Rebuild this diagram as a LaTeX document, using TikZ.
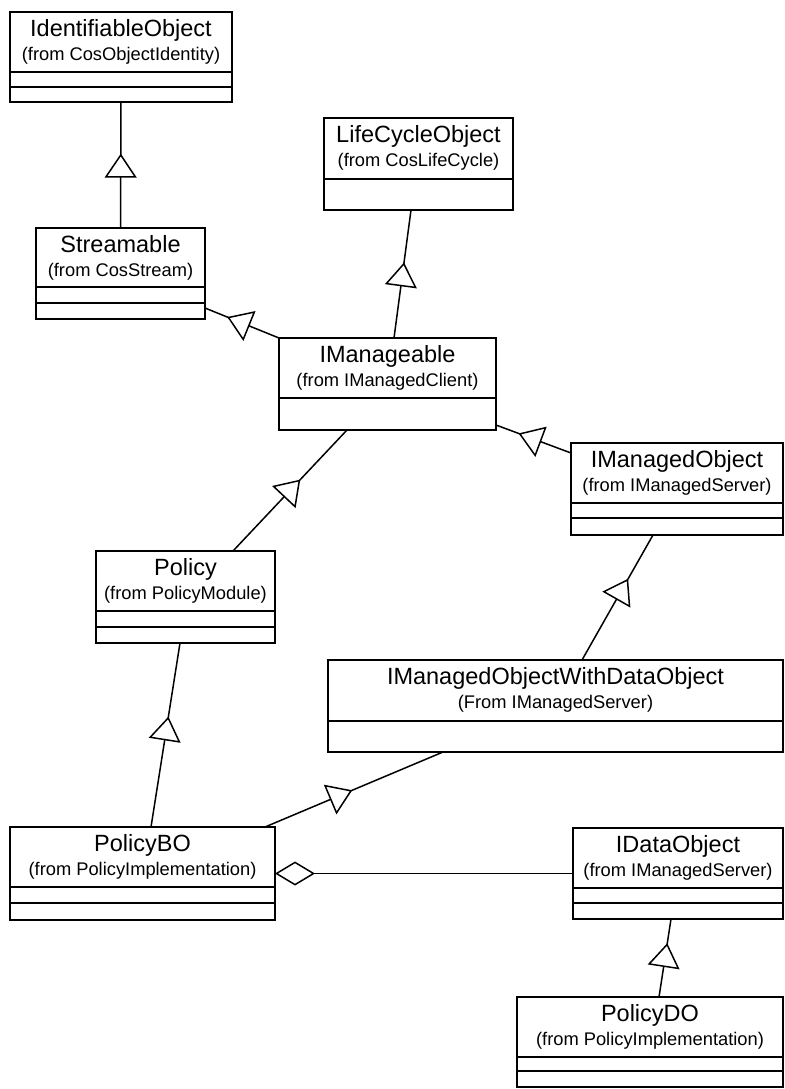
\documentclass[tikz,border=0pt]{standalone}
\usepackage{fontspec}
\setmainfont{Liberation Sans}
\usetikzlibrary{arrows.meta,decorations.markings,calc}

\tikzset{
  classbox/.style={draw, line width=1.5bp, rectangle, inner sep=0pt, outer sep=0pt, anchor=north west},
  titletext/.style={font=\fontsize{23.5bp}{28bp}\selectfont, inner sep=0pt, anchor=base},
  subtext/.style={font=\fontsize{18.3bp}{22bp}\selectfont, inner sep=0pt, anchor=base},
  sepline/.style={line width=1.5bp},
  link/.style={line width=1.5bp},
  gen/.style={link, postaction={decorate, decoration={markings,
      mark=at position #1 with {\arrow{Triangle[fill=white, length=24bp, width=32bp]}}}}},
  agg/.style={link, -{Diamond[fill=white, length=40bp, width=24bp]}},
}

% UML class: name, left x, top y, width, height, title, package line, separator offsets
\newcommand{\umlclass}[8]{%
  \node[classbox, minimum width=#4bp, minimum height=#5bp] (#1) at (#2,#3) {};
  \node[titletext] (#1-title) at ([yshift=-24bp]#1.north) {#6};
  \node[subtext] (#1-from) at ([yshift=-48bp]#1.north) {#7};
  \foreach \off in {#8}
    \draw[sepline] ([yshift=-\off bp]#1.north west) -- ([yshift=-\off bp]#1.north east);
}

\begin{document}
\begin{tikzpicture}[x=1bp, y=-1bp]
  \useasboundingbox (0,0) rectangle (785,1089);

  \umlclass{ident}{10}{12}{222}{90}{IdentifiableObject}{(from CosObjectIdentity)}{60,75}
  \umlclass{stream}{36}{228}{169}{91}{Streamable}{(from CosStream)}{59,75}
  \umlclass{life}{324}{118}{189}{92}{LifeCycleObject}{(from CosLifeCycle)}{61}
  \umlclass{imng}{279}{338}{217}{92}{IManageable}{(from IManagedClient)}{60}
  \umlclass{imo}{571}{443}{212}{92}{IManagedObject}{(from IManagedServer)}{60,75}
  \umlclass{policy}{96}{551}{179}{92}{Policy}{(from PolicyModule)}{60,76}
  \umlclass{imowdo}{328}{660}{455}{92}{IManagedObjectWithDataObject}{(From IManagedServer)}{61}
  \umlclass{pbo}{10}{827}{265}{93}{PolicyBO}{(from PolicyImplementation)}{60,76}
  \umlclass{ido}{573}{828}{210}{91}{IDataObject}{(from IManagedServer)}{60,75}
  \umlclass{pdo}{517}{997}{266}{90}{PolicyDO}{(from PolicyImplementation)}{60,74}

  % generalisations (child -- parent)
  \draw[gen=0.59] (stream.north) -- (ident.south);
  \draw[gen=0.59] ([xshift=6.5bp]imng.north) -- ([xshift=-7.5bp]life.south);
  \draw[gen=0.70] (imng.north west) -- ([yshift=11bp]stream.south east);
  \draw[gen=0.59] ([xshift=47.5bp]policy.north) -- ([xshift=-40.5bp]imng.south);
  \draw[gen=0.70] ([yshift=-10bp]imo.north west) -- ([yshift=5bp]imng.south east);
  \draw[gen=0.65] ([xshift=26.5bp]imowdo.north) -- ([xshift=-24bp]imo.south);
  \draw[gen=0.60] ([xshift=8.5bp]pbo.north) -- ([xshift=-5.5bp]policy.south);
  \draw[gen=0.49] ([xshift=122.5bp]pbo.north) -- ([xshift=-112.5bp]imowdo.south);
  \draw[gen=0.69] ([xshift=9bp]pdo.north) -- ([xshift=-7bp]ido.south);

  % aggregation
  \draw[agg] (ido.west) -- (pbo.east);
\end{tikzpicture}
\end{document}
